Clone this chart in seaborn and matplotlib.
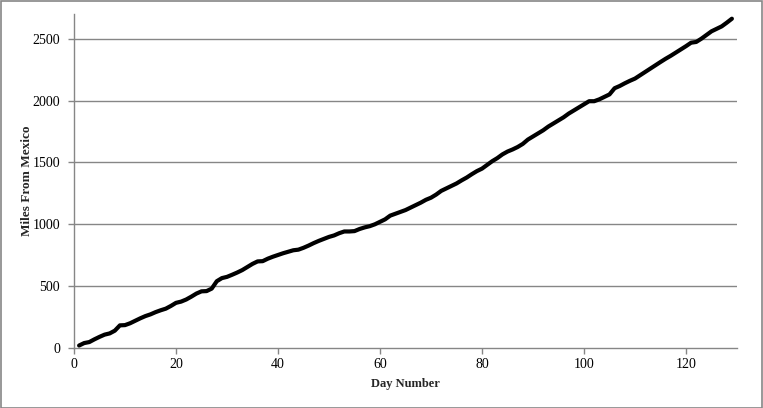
import matplotlib
matplotlib.use("Agg")
import matplotlib.pyplot as plt
import seaborn as sns
import pandas as pd
from matplotlib.patches import Rectangle

days = list(range(1, 130))
miles = [
    20, 40, 48, 70, 90, 108, 118, 140, 183, 185,
    200, 220, 240, 258, 272, 290, 305, 318, 340, 365,
    375, 392, 415, 440, 458, 460, 480, 540, 565, 575,
    592, 610, 630, 655, 680, 700, 702, 722, 738, 752,
    766, 778, 790, 795, 810, 828, 848, 866, 882, 898,
    910, 928, 942, 942, 945, 962, 975, 985, 1000, 1020,
    1040, 1070, 1085, 1100, 1115, 1135, 1155, 1175, 1198, 1215,
    1240, 1270, 1290, 1310, 1330, 1355, 1378, 1405, 1430, 1450,
    1480, 1510, 1535, 1565, 1588, 1605, 1625, 1650, 1685, 1710,
    1735, 1760, 1790, 1815, 1840, 1865, 1895, 1920, 1945, 1970,
    1995, 1995, 2010, 2030, 2050, 2100, 2118, 2140, 2160, 2178,
    2205, 2232, 2258, 2285, 2312, 2338, 2362, 2388, 2413, 2440,
    2468, 2474, 2500, 2530, 2560, 2580, 2600, 2630, 2662,
]
x_ticks = [0, 20, 40, 60, 80, 100, 120]
y_ticks = [0, 500, 1000, 1500, 2000, 2500]

df = pd.DataFrame({"Day Number": days, "Miles From Mexico": miles})

sns.set_style("white")
plt.rcParams["font.family"] = ["Liberation Serif", "DejaVu Serif"]

W, H = 763, 408
fig = plt.figure(figsize=(W / 100, H / 100), dpi=100)
fig.patches.append(Rectangle((0.5 / W, 0.5 / H), 1 - 1.5 / W, 1 - 1.5 / H,
                             transform=fig.transFigure, fill=False,
                             edgecolor="#868686", linewidth=1.2))

left, right, top, bottom = 74, 737, 14, 348
ax = fig.add_axes([left / W, (H - bottom) / H, (right - left) / W, (bottom - top) / H])

grid_c = "#868686"
for yv in y_ticks[1:]:
    ax.axhline(yv, color=grid_c, linewidth=1.0, zorder=1)

sns.lineplot(data=df, x="Day Number", y="Miles From Mexico", ax=ax,
             color="black", linewidth=3.0, zorder=3)

ax.set_xlim(0, 130)
ax.set_ylim(0, 2700)
ax.set_xticks(x_ticks)
ax.set_yticks(y_ticks)
for s in ["top", "right"]:
    ax.spines[s].set_visible(False)
for s in ["left", "bottom"]:
    ax.spines[s].set_color(grid_c)
    ax.spines[s].set_linewidth(1.0)

ax.tick_params(axis="x", direction="out", length=4, width=1, color=grid_c,
               labelsize=10, pad=3, labelcolor="black", bottom=True)
ax.tick_params(axis="y", direction="out", length=4, width=1, color=grid_c,
               labelsize=10, pad=6, labelcolor="black", left=True)

ax.set_xlabel("Day Number", fontsize=9, fontweight="bold", labelpad=5)
ax.set_ylabel("Miles From Mexico", fontsize=9.5, fontweight="bold",
              va="center", ha="center")
ax.yaxis.set_label_coords((27 - left) / (right - left), 0.5)

fig.savefig("out.png", dpi=100)
